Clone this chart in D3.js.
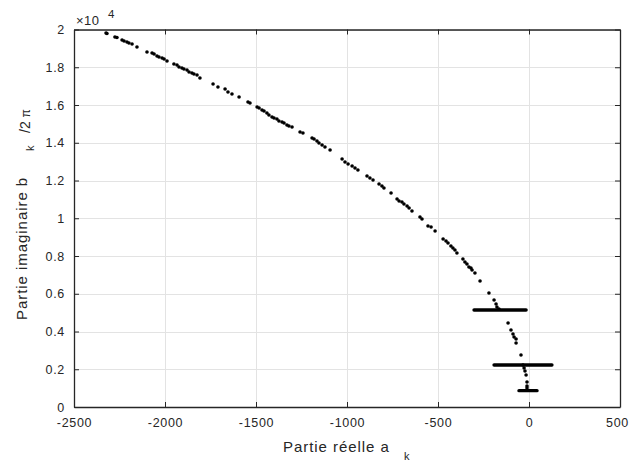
<!DOCTYPE html>
<html><head><meta charset="utf-8">
<script src="https://cdn.jsdelivr.net/npm/d3@7"></script>
<style>body{margin:0;background:#fff}svg{display:block}</style>
</head><body><svg id="c" width="629" height="462"></svg>
<script>
const realParts = [-2324,-2319,-2275,-2264,-2236,-2225,-2209,-2198,-2181,-2154,-2099,-2071,-2060,-2044,-2033,-2016,-2005,-1989,-1951,-1934,-1923,-1907,-1896,-1879,-1868,-1852,-1841,-1824,-1808,-1736,-1709,-1670,-1654,-1632,-1593,-1544,-1533,-1494,-1483,-1467,-1456,-1440,-1429,-1412,-1401,-1385,-1374,-1357,-1346,-1330,-1319,-1302,-1258,-1242,-1192,-1181,-1165,-1154,-1137,-1121,-1093,-1027,-1011,-994,-972,-956,-940,-890,-874,-857,-824,-808,-797,-758,-725,-714,-698,-687,-670,-659,-643,-599,-588,-555,-538,-516,-472,-456,-445,-429,-418,-407,-396,-363,-352,-341,-330,-319,-313,-297,-269,-220,-192,-181,-176,-165,-115,-99,-88,-82,-71,-71,-44,-33,-27,-22,-16,-11,-11,-11];
const imagParts = [19815,19788,19603,19576,19444,19391,19338,19285,19232,19073,18808,18755,18702,18596,18543,18490,18437,18331,18172,18119,18013,17960,17907,17854,17748,17695,17642,17589,17430,17113,16954,16848,16689,16583,16424,16159,16106,15894,15841,15735,15682,15576,15470,15364,15311,15258,15152,15099,15046,14940,14887,14834,14570,14517,14252,14199,14093,13987,13881,13775,13616,13139,12980,12874,12768,12662,12556,12238,12132,12026,11815,11709,11603,11338,11020,10914,10861,10755,10649,10543,10384,10066,9960,9589,9536,9324,8901,8795,8689,8530,8424,8318,8159,7841,7682,7576,7417,7364,7258,7099,6675,6040,5669,5457,5298,5192,4450,4079,3868,3709,3603,3391,2755,2225,2066,1907,1695,1325,1113,1007];
const lineLevels = [5140, 2225, 865];
const lineStarts = [-302, -192, -55];
const lineEnds = [-16, 126, 44];
const xTicks = [-2500,-2000,-1500,-1000,-500,0,500];
const xTickLabels = ["-2500","-2000","-1500","-1000","-500","0","500"];
const yTicks = [0,2000,4000,6000,8000,10000,12000,14000,16000,18000,20000];
const yTickLabels = ["0","0.2","0.4","0.6","0.8","1","1.2","1.4","1.6","1.8","2"];

const svg = d3.select("#c");
const L = 74, R = 620, T = 29.5, B = 407;
const x = d3.scaleLinear().domain([-2500, 500]).range([L, R]);
const y = d3.scaleLinear().domain([0, 20000]).range([B, T]);
const axisCol = "#262626";
const tickFont = "Liberation Sans, Arial, Helvetica, sans-serif";

// grid
const g = svg.append("g");
g.selectAll("line.gx").data(xTicks).join("line")
  .attr("x1", d => Math.round(x(d)) + 0.5).attr("x2", d => Math.round(x(d)) + 0.5)
  .attr("y1", T).attr("y2", B).attr("stroke", "#e3e3e3").attr("stroke-width", 1);
g.selectAll("line.gy").data(yTicks).join("line")
  .attr("y1", d => Math.round(y(d)) + 0.5).attr("y2", d => Math.round(y(d)) + 0.5)
  .attr("x1", L).attr("x2", R).attr("stroke", "#e3e3e3").attr("stroke-width", 1);

// axes via d3
const xb = svg.append("g").attr("transform", `translate(0,${B})`)
  .call(d3.axisBottom(x).tickValues(xTicks).tickFormat((d,i) => xTickLabels[i]).tickSizeInner(-5).tickSizeOuter(0).tickPadding(11));
const xt = svg.append("g").attr("transform", `translate(0,${T})`)
  .call(d3.axisTop(x).tickValues(xTicks).tickFormat("").tickSizeInner(-5).tickSizeOuter(0));
const yl = svg.append("g").attr("transform", `translate(${L},0)`)
  .call(d3.axisLeft(y).tickValues(yTicks).tickFormat((d,i) => yTickLabels[i]).tickSizeInner(-5).tickSizeOuter(0).tickPadding(9));
const yr = svg.append("g").attr("transform", `translate(${R},0)`)
  .call(d3.axisRight(y).tickValues(yTicks).tickFormat("").tickSizeInner(-5).tickSizeOuter(0));
[xb, xt, yl, yr].forEach(a => {
  a.selectAll("path.domain").attr("stroke", axisCol).attr("stroke-width", 1.3);
  a.selectAll(".tick line").attr("stroke", axisCol).attr("stroke-width", 1);
  a.selectAll("text").attr("fill", axisCol).style("font-family", tickFont).style("font-size", "12.5px").style("letter-spacing", "0.7px");
});
xb.selectAll("text").attr("dy", "0.71em");
xb.selectAll(".tick text").filter((d) => d === 500).attr("dx", "-3");

// exponent
svg.append("text").attr("x", 76).attr("y", 25).attr("fill", axisCol)
  .style("font-family", tickFont).style("font-size", "13px").style("letter-spacing", "0.5px").text("×10");
svg.append("text").attr("x", 108).attr("y", 18).attr("fill", axisCol)
  .style("font-family", tickFont).style("font-size", "11.5px").text("4");

// data lines (dense point rows)
svg.append("g").selectAll("line").data(lineLevels).join("line")
  .attr("x1", (d,i) => x(lineStarts[i])).attr("x2", (d,i) => x(lineEnds[i]))
  .attr("y1", d => y(d)).attr("y2", d => y(d))
  .attr("stroke", "#000").attr("stroke-width", 3.4).attr("stroke-linecap", "round");

// points
svg.append("g").selectAll("circle").data(realParts).join("circle")
  .attr("cx", d => x(d)).attr("cy", (d,i) => y(imagParts[i])).attr("r", 1.8).attr("fill", "#000");

// x label
const lf = "Liberation Sans, Arial, Helvetica, sans-serif";
svg.append("text").attr("x", 283).attr("y", 452).attr("fill", axisCol)
  .style("font-family", lf).style("font-size", "15px").style("letter-spacing", "0.95px").text("Partie réelle a");
svg.append("text").attr("x", 404).attr("y", 460).attr("fill", axisCol)
  .style("font-family", lf).style("font-size", "11px").text("k");

// y label
svg.append("text").attr("transform", "translate(27,320) rotate(-90)").attr("fill", axisCol)
  .style("font-family", lf).style("font-size", "15px").style("letter-spacing", "0.95px").text("Partie imaginaire b");
svg.append("text").attr("transform", "translate(34,151) rotate(-90)").attr("fill", axisCol)
  .style("font-family", lf).style("font-size", "11px").text("k");
const yl2 = svg.append("text").attr("transform", "translate(30,133) rotate(-90)").attr("fill", axisCol)
  .style("font-family", lf).style("font-size", "14px");
yl2.append("tspan").text("/2 ");
yl2.append("tspan").style("font-size", "12px").text("π");
</script></body></html>
